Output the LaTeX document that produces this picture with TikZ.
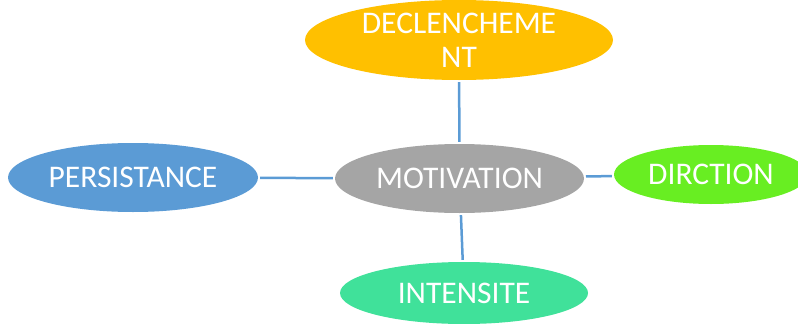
\documentclass[tikz,border=0pt]{standalone}
\usepackage{fontspec}
\setmainfont{Carlito}
\usetikzlibrary{shapes.geometric}
\definecolor{declcol}{HTML}{FFC000}
\definecolor{perscol}{HTML}{5B9BD5}
\definecolor{motcol}{HTML}{A5A5A5}
\definecolor{dircol}{HTML}{68EE22}
\definecolor{intcol}{HTML}{40E19A}
\definecolor{linkcol}{HTML}{5B9BD5}

\begin{document}
\begin{tikzpicture}[
                x=1pt, y=-1pt,
                E/.style = {ellipse, inner sep=0pt, text=white, align=center,
                            font=\fontsize{31.5}{34}\selectfont},
                link/.style = {draw=linkcol, line width=2.5pt, shorten <=2pt, shorten >=2pt}
                    ]
                \useasboundingbox (0,0) rectangle (798,324);
                \begin{scope}[nodes=E]
                \node (mot) [fill=motcol, minimum width=249pt, minimum height=69pt] at (459.5,178.5) {MOTIVATION};
                \node (decl) [fill=declcol, minimum width=308pt, minimum height=80pt] at (459,40) {DECLENCHEME\\NT};
                \node (pers) [fill=perscol, minimum width=250pt, minimum height=69pt] at (133,177.5) {PERSISTANCE};
                \node (dir) [fill=dircol, minimum width=194pt, minimum height=59pt] at (711,174.5) {DIRCTION};
                \node (int) [fill=intcol, minimum width=248pt, minimum height=62pt] at (464,293) {INTENSITE};
                \end{scope}
                \draw[link] (decl) to (mot);
                \draw[link] (pers) to (mot);
                \draw[link] (mot) to (dir);
                \draw[link] (mot) to (int);
            \end{tikzpicture}
\end{document}
